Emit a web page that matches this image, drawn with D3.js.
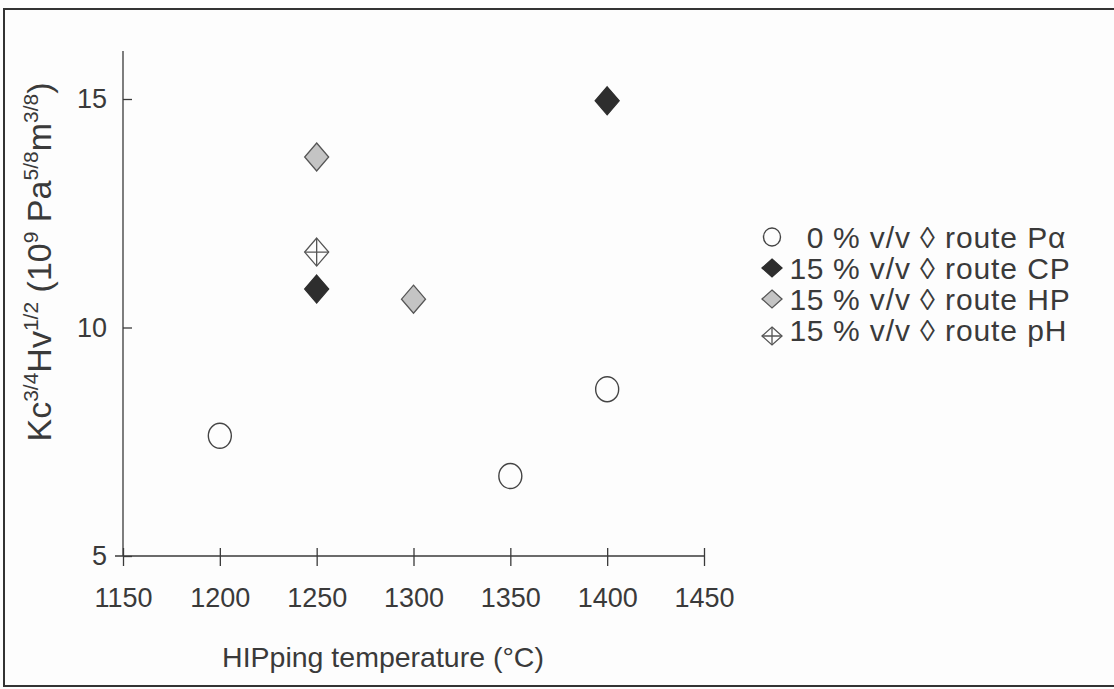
<!DOCTYPE html>
<html>
<head>
<meta charset="utf-8">
<title>Kc Hv vs HIPping temperature</title>
<style>
  body { margin: 0; background: #fdfdfd; }
  svg { display: block; font-family: "Liberation Sans", Arial, sans-serif; }
  .axis path, .axis line { stroke: #3a3a3a; stroke-width: 1.3; fill: none; }
  .axis text { fill: #3a3a3a; font-size: 27px; font-family: "Liberation Sans", Arial, sans-serif; }
  .label { fill: #3a3a3a; }
</style>
</head>
<body>
<div id="chart"></div>
<script src="https://cdnjs.cloudflare.com/ajax/libs/d3/7.8.5/d3.min.js"></script>
<script>
// data
var xTicks = [1150, 1200, 1250, 1300, 1350, 1400, 1450];
var yTicks = [5, 10, 15];

var seriesNames = ["0", "15", "15", "15"];
var seriesRoutes = ["P\u03b1", "CP", "HP", "pH"];
var seriesShapes = ["circle", "diamond", "diamond", "crossDiamond"];
var seriesFills = ["none", "#2e2e2e", "#c4c4c4", "none"];

var pa = [[1200, 7.63], [1350, 6.75], [1400, 8.65]];
var cp = [[1250, 10.84], [1400, 14.96]];
var hp = [[1250, 13.73], [1300, 10.62]];
var ph = [[1250, 11.65]];
var seriesData = [pa, cp, hp, ph];

var W = 1114, H = 689;
var svg = d3.select("#chart").append("svg")
  .attr("width", W)
  .attr("height", H);

// frame round the figure
svg.append("rect")
  .attr("x", 4).attr("y", 9)
  .attr("width", W + 10).attr("height", 677)
  .attr("fill", "none")
  .attr("stroke", "#333")
  .attr("stroke-width", 2);

var x = d3.scaleLinear().domain([1150, 1450]).range([123, 704]);
var y = d3.scaleLinear().domain([5, 15]).range([556, 99]);
var yTop = 16.05;

// x axis, ticks crossing the line
var xAxis = svg.append("g")
  .attr("class", "axis")
  .attr("transform", "translate(0," + y(5) + ")")
  .call(d3.axisBottom(x).tickValues(xTicks).tickFormat(d3.format("d"))
    .tickSizeInner(10).tickSizeOuter(0).tickPadding(22));
xAxis.selectAll(".tick line").attr("y1", -8);
xAxis.select(".domain").attr("d", "M" + (x(1150) - 8) + ",0H" + x(1450));

// y axis
var yAxis = svg.append("g")
  .attr("class", "axis")
  .attr("transform", "translate(" + x(1150) + ",0)")
  .call(d3.axisLeft(y).tickValues(yTicks).tickSizeInner(10).tickSizeOuter(0).tickPadding(6));
yAxis.selectAll(".tick line").attr("x2", 9);
yAxis.select(".domain").attr("d", "M0," + y(yTop) + "V" + y(5));

// axis titles
svg.append("text")
  .attr("class", "label")
  .attr("x", 383).attr("y", 667)
  .attr("text-anchor", "middle")
  .attr("font-size", 28.5)
  .text("HIPping temperature (\u00b0C)");

var yl = svg.append("text")
  .attr("class", "label")
  .attr("text-anchor", "middle")
  .attr("font-size", 34)
  .attr("transform", "translate(51,262) rotate(-90)");
var sup = 21, up = 13;
yl.append("tspan").text("Kc");
yl.append("tspan").attr("font-size", sup).attr("dy", -up).text("3/4");
yl.append("tspan").attr("dy", up).text("Hv");
yl.append("tspan").attr("font-size", sup).attr("dy", -up).text("1/2");
yl.append("tspan").attr("dy", up).text(" (10");
yl.append("tspan").attr("font-size", sup).attr("dy", -up).text("9");
yl.append("tspan").attr("dy", up).text(" Pa");
yl.append("tspan").attr("font-size", sup).attr("dy", -up).text("5/8");
yl.append("tspan").attr("dy", up).text("m");
yl.append("tspan").attr("font-size", sup).attr("dy", -up).text("3/8");
yl.append("tspan").attr("dy", up).text(")");

// marker drawing
function drawMarker(g, shape, fill, rx, ry) {
  if (shape === "circle") {
    g.append("ellipse")
      .attr("rx", rx).attr("ry", ry)
      .attr("fill", "#fdfdfd")
      .attr("stroke", "#444").attr("stroke-width", 1.4);
    return;
  }
  var pts = [[0, -ry], [rx, 0], [0, ry], [-rx, 0]];
  var dark = fill === "#2e2e2e";
  g.append("path")
    .attr("d", d3.line()(pts) + "Z")
    .attr("fill", shape === "crossDiamond" ? "#fdfdfd" : fill)
    .attr("stroke", dark ? "#2e2e2e" : "#555")
    .attr("stroke-width", 1.3);
  if (shape === "crossDiamond") {
    g.append("path")
      .attr("d", "M" + (-rx) + ",0H" + rx + "M0," + (-ry) + "V" + ry)
      .attr("stroke", "#555").attr("stroke-width", 1.3);
  }
}

seriesData.forEach(function(data, i) {
  data.forEach(function(d) {
    var g = svg.append("g")
      .attr("transform", "translate(" + x(d[0]) + "," + y(d[1]) + ")");
    if (seriesShapes[i] === "circle") drawMarker(g, "circle", null, 11.5, 12.5);
    else drawMarker(g, seriesShapes[i], seriesFills[i], 12, 14);
  });
});

// legend
var legY = [237, 268, 299, 330];
seriesNames.forEach(function(name, i) {
  var g = svg.append("g")
    .attr("transform", "translate(772," + (legY[i] + (i === 3 ? 6 : 0)) + ")");
  if (seriesShapes[i] === "circle") drawMarker(g, "circle", null, 8.5, 9);
  else drawMarker(g, seriesShapes[i], seriesFills[i], 10, 9);
  svg.append("text")
    .attr("class", "label")
    .attr("x", 824).attr("y", legY[i] + 11)
    .attr("text-anchor", "end")
    .attr("font-size", 30)
    .attr("letter-spacing", 0.6)
    .text(name);
  svg.append("text")
    .attr("class", "label")
    .attr("x", 833).attr("y", legY[i] + 11)
    .attr("font-size", 30)
    .attr("letter-spacing", 0.9)
    .text("% v/v \u25ca route " + seriesRoutes[i]);
});
</script>
</body>
</html>
